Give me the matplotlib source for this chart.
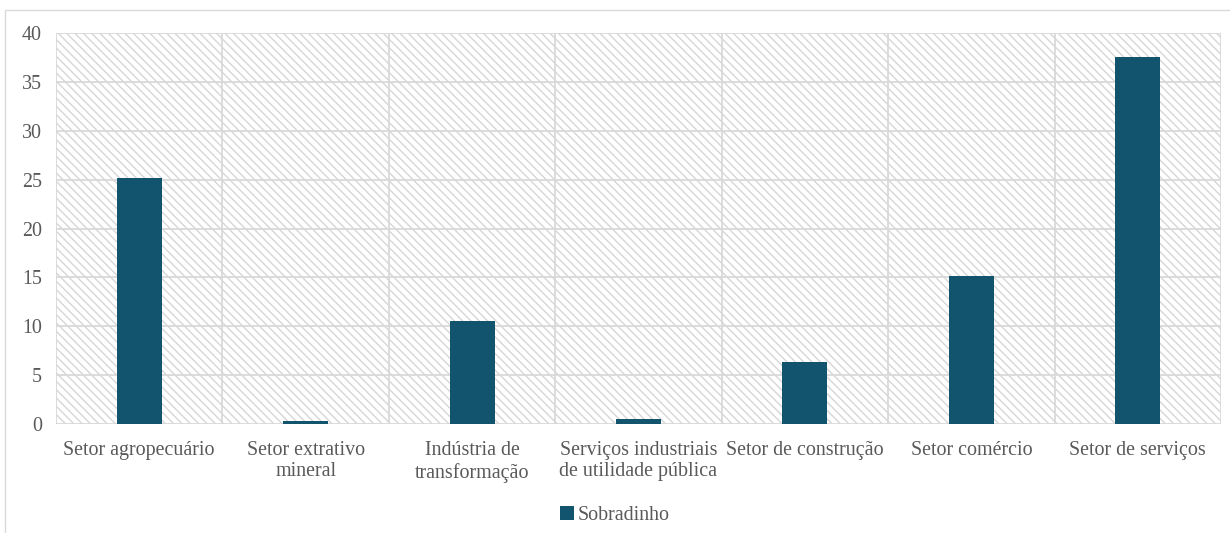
import matplotlib
matplotlib.use("Agg")
import matplotlib.pyplot as plt
from matplotlib.patches import Rectangle
import numpy as np

plt.rcParams.update({
    "font.family": ["Liberation Serif", "DejaVu Serif"],
    "font.size": 14.4,
    "hatch.color": "#d6d6d6",
    "hatch.linewidth": 1.0,
})

categories = [
    "Setor agropecuário",
    "Setor extrativo\nmineral",
    "Indústria de\ntransformação",
    "Serviços industriais\nde utilidade pública",
    "Setor de construção",
    "Setor comércio",
    "Setor de serviços",
]
sobradinho = [25.2, 0.3, 10.5, 0.5, 6.3, 15.1, 37.6]

TXT = "#595959"
BAR = "#12536e"
GRID = "#d9d9d9"

fig = plt.figure(figsize=(12.3, 5.33), dpi=100)
ax = fig.add_axes([0.0455, 0.2045, 0.9472, 0.7335])

# outer chart frame (only left/top visible in the original)
fig.patches.append(Rectangle((5 / 1230, -0.1), 1.2, 1 - 10 / 533 + 0.1,
                             transform=fig.transFigure, fill=False,
                             edgecolor=GRID, linewidth=1.0, zorder=0))

ax.set_facecolor("none")
ax.add_patch(Rectangle((0, 0), 1, 1, transform=ax.transAxes, facecolor="white",
                       edgecolor="#d6d6d6", hatch="\\\\\\\\", linewidth=0, zorder=0))

x = np.arange(len(categories))
ax.bar(x, sobradinho, width=0.27, color=BAR, zorder=3, label="Sobradinho")

ax.set_xlim(-0.5, len(categories) - 0.5)
ax.set_ylim(0, 40)
ax.set_yticks(np.arange(0, 41, 5))
for y in np.arange(0, 41, 5):
    ax.axhline(y, color=GRID, linewidth=1.3, zorder=1)
for b in np.arange(-0.5, len(categories), 1):
    ax.axvline(b, color=GRID, linewidth=1.3, zorder=1)

ax.set_xticks(x)
ax.set_xticklabels(categories, color=TXT)
ax.tick_params(axis="both", length=0, colors=TXT, labelsize=14.4)
ax.tick_params(axis="y", pad=10)
ax.tick_params(axis="x", pad=12)
for s in ax.spines.values():
    s.set_visible(False)

fig.legend(loc="lower center", bbox_to_anchor=(0.5, -0.018), frameon=False,
           handlelength=0.7, handleheight=0.7, handletextpad=0.2,
           labelcolor=TXT, fontsize=14.4)

fig.savefig("out.png", dpi=100)
